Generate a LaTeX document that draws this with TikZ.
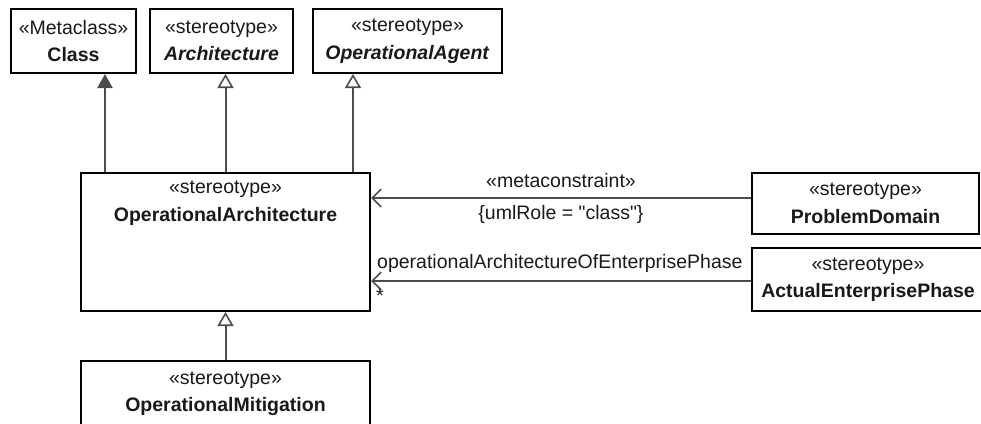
\documentclass[tikz,border=0pt]{standalone}
\usepackage{fontspec}
\setmainfont{Liberation Sans}
\newfontfamily\nomapfont{Liberation Sans}
\usetikzlibrary{arrows.meta}
\begin{document}
\begin{tikzpicture}[x=1pt,y=-1pt,
  umlbox/.style={draw=black,line width=2pt,anchor=north west,inner sep=0pt,align=center,
    font=\fontsize{19.5}{27.5}\selectfont,text=black!90},
  conn/.style={draw=black!70,line width=2pt},
  gen/.style={conn,-{Triangle[open,width=16pt,length=14pt,line width=1.6pt]}},
  genfill/.style={conn,-{Triangle[width=15pt,length=14pt]}},
  nav/.style={conn,-{Straight Barb[width=18pt,length=9pt,line width=1.6pt]}},
  lbl/.style={font=\fontsize{19.5}{22}\selectfont,text=black!90,inner sep=0pt}]
\useasboundingbox (0,0) rectangle (981,423);
\node[umlbox,minimum width=125pt,minimum height=64pt] (cls) at (10,8) {«Metaclass»\\\textbf{Class}};
\node[umlbox,minimum width=143pt,minimum height=64pt] (arch) at (149,8) {«stereotype»\\\textbf{\textit{Architecture}}};
\node[umlbox,minimum width=189pt,minimum height=64pt] (agent) at (312,8) {«stereotype»\\\textbf{\textit{OperationalAgent}}};
\node[umlbox,minimum width=289pt,minimum height=138pt] (oa) at (80,172) {};
\node[lbl,anchor=north,align=center,font=\fontsize{19.5}{27.5}\selectfont] (oat) at ([yshift=-9pt]oa.north) {«stereotype»\\\textbf{OperationalArchitecture}};
\node[umlbox,minimum width=227pt,minimum height=61pt] (pd) at (751,172) {«stereotype»\\\textbf{ProblemDomain}};
\node[umlbox,minimum width=232pt,minimum height=63pt] (aep) at (751,247) {«stereotype»\\\textbf{ActualEnterprisePhase}};
\node[umlbox,minimum width=289pt,minimum height=66pt] (mit) at (80,360) {«stereotype»\\\textbf{OperationalMitigation}};
% generalizations
\coordinate (p1) at ([xshift=25pt]oa.north west);
\draw[genfill] (p1) -- (p1 |- cls.south);
\draw[gen] (oa.north) -- (oa.north |- arch.south);
\coordinate (p3) at ([xshift=-18pt]oa.north east);
\draw[gen] (p3) -- (p3 |- agent.south);
\draw[gen] (mit.north) -- (oa.south);
% associations
\coordinate (q1) at ([yshift=5.5pt]pd.west);
\draw[nav] (q1) -- (q1 -| oa.east);
\node[lbl] (mc) at (561,181) {«metaconstraint»};
\node[lbl] (ur) at (561,214) {\{umlRole = {\nomapfont "}class{\nomapfont "}\}};
\coordinate (q2) at ([yshift=-1.5pt]aep.west);
\draw[nav] (q2) -- (q2 -| oa.east);
\node[lbl,anchor=west] (oaep) at (377,263) {operationalArchitectureOfEnterprisePhase};
\node[lbl,anchor=west] (star) at (376,296) {*};
\end{tikzpicture}
\end{document}
